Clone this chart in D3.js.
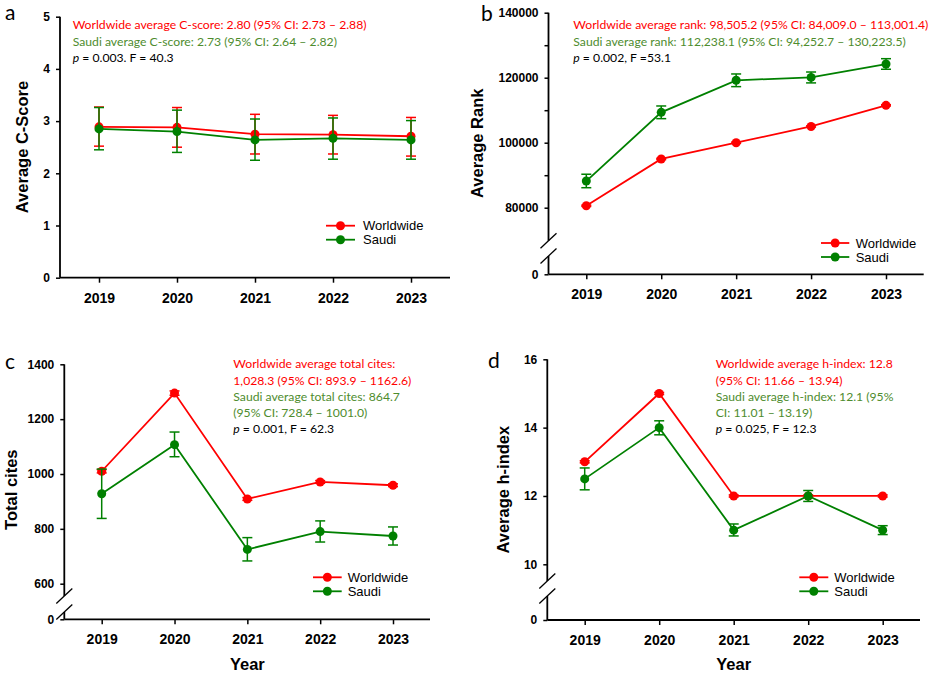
<!DOCTYPE html>
<html lang="en">
<head>
<meta charset="UTF-8">
<title>Average C-score, rank, total cites and h-index, 2019-2023</title>
<script src="https://d3js.org/d3.v7.min.js"></script>
<style>
  body { margin: 0; background: #fff; }
  svg { display: block; font-family: Arial, "Liberation Sans", sans-serif; }
  .tick line { stroke: #000; stroke-width: 1.5; }
  .tick text { font-weight: bold; fill: #000; }
  .yax .tick text { font-size: 12px; }
  .xax .tick text { font-size: 14px; }
  .axis-line { stroke: #000; stroke-width: 1.8; fill: none; }
  .axis-title { font-weight: bold; font-size: 16.5px; }
  .note { font-family: Lato, "Open Sans", sans-serif; font-size: 12.2px; }
  .legend text { font-size: 13px; }
  .letter { font-family: Lato, "Open Sans", sans-serif; font-size: 21px; }
</style>
</head>
<body>
<svg id="chart" width="935" height="676"></svg>
<script>
const years = ['2019', '2020', '2021', '2022', '2023'];
const seriesNames = ['Worldwide', 'Saudi'];

// a: average C-score
const cscoreWorld   = [2.89, 2.88, 2.75, 2.74, 2.71];
const cscoreWorldLo = [2.52, 2.50, 2.37, 2.37, 2.33];
const cscoreWorldHi = [3.27, 3.26, 3.13, 3.11, 3.07];
const cscoreSaudi   = [2.85, 2.80, 2.64, 2.67, 2.64];
const cscoreSaudiLo = [2.45, 2.40, 2.25, 2.27, 2.27];
const cscoreSaudiHi = [3.26, 3.21, 3.04, 3.06, 3.01];
const cscoreTicks = [0, 1, 2, 3, 4, 5];

// b: average rank
const rankWorld   = [80600, 95000, 100000, 105000, 111500];
const rankWorldLo = [80400, 94800, 99800, 104800, 111300];
const rankWorldHi = [80800, 95200, 100200, 105200, 111700];
const rankSaudi   = [88200, 109350, 119200, 120100, 124200];
const rankSaudiLo = [86150, 107400, 117250, 118400, 122600];
const rankSaudiHi = [90300, 111300, 121150, 121750, 125850];
const rankTicks = [80000, 100000, 120000, 140000];
const rankMinorTicks = [90000, 110000, 130000];

// c: total cites
const citesWorld   = [1010, 1295, 909, 971, 959];
const citesWorldLo = [1004, 1287, 904, 966, 954];
const citesWorldHi = [1016, 1303, 914, 976, 964];
const citesSaudi   = [928, 1107, 725, 790, 774];
const citesSaudiLo = [838, 1063, 683, 752, 741];
const citesSaudiHi = [1018, 1153, 768, 829, 807];
const citesTicks = [600, 800, 1000, 1200, 1400];

// d: average h-index
const hWorld   = [13, 15, 12, 12, 12];
const hWorldLo = [12.97, 14.97, 11.97, 11.97, 11.97];
const hWorldHi = [13.03, 15.03, 12.03, 12.03, 12.03];
const hSaudi   = [12.5, 14, 11, 12, 11];
const hSaudiLo = [12.18, 13.79, 10.83, 11.84, 10.87];
const hSaudiHi = [12.82, 14.2, 11.18, 12.16, 11.13];
const hTicks = [10, 12, 14, 16];

// annotation lines: [text, colour]; 'p' at start of the last line is italic
const notesA = [
  ['Worldwide average C-score: 2.80 (95% CI: 2.73 \u2013 2.88)', 'w'],
  ['Saudi average C-score: 2.73 (95% CI: 2.64 \u2013 2.82)', 's'],
  [' = 0.003. F = 40.3', 'p']
];
const notesB = [
  ['Worldwide average rank: 98,505.2 (95% CI: 84,009.0 \u2013 113,001.4)', 'w'],
  ['Saudi average rank: 112,238.1 (95% CI: 94,252.7 \u2013 130,223.5)', 's'],
  [' = 0.002, F =53.1', 'p']
];
const notesC = [
  ['Worldwide average total cites:', 'w'],
  ['1,028.3 (95% CI: 893.9 \u2013 1162.6)', 'w'],
  ['Saudi average total cites: 864.7', 's'],
  ['(95% CI: 728.4 \u2013 1001.0)', 's'],
  [' = 0.001, F = 62.3', 'p']
];
const notesD = [
  ['Worldwide average h-index: 12.8', 'w'],
  ['(95% CI: 11.66 \u2013 13.94)', 'w'],
  ['Saudi average h-index: 12.1 (95%', 's'],
  ['CI: 11.01 \u2013 13.19)', 's'],
  [' = 0.025, F = 12.3', 'p']
];

const lineColor = { Worldwide: '#ff0000', Saudi: '#008000' };
const noteColor = { w: '#ff0000', s: '#4e8c2e', p: '#000' };

const svg = d3.select('#chart');

const panels = [
  {
    letter: 'a', letterPos: [5, 20],
    left: 60, right: 450, x0: 99, x1: 411,
    domain: [0, 5], range: [277.7, 16.7], bottom: 277.7,
    ticks: cscoreTicks, minor: null, breakAt: null,
    series: [[cscoreWorld, cscoreWorldLo, cscoreWorldHi], [cscoreSaudi, cscoreSaudiLo, cscoreSaudiHi]],
    title: 'Average C-Score', titlePos: [27.5, 147], xTitle: false,
    notes: notesA, notePos: [72.7, 29.3],
    legend: { x1: 326, x2: 355, tx: 363, y: 225.7 }
  },
  {
    letter: 'b', letterPos: [481, 21],
    left: 548.5, right: 923.7, x0: 586.3, x1: 886,
    domain: [80000, 140000], range: [207.7, 12.7], bottom: 274.3,
    ticks: rankTicks, minor: rankMinorTicks, breakAt: [240.7, 256],
    series: [[rankWorld, rankWorldLo, rankWorldHi], [rankSaudi, rankSaudiLo, rankSaudiHi]],
    title: 'Average Rank', titlePos: [482.5, 143.3], xTitle: false,
    notes: notesB, notePos: [573.3, 29.3],
    legend: { x1: 821, x2: 849.3, tx: 855.7, y: 243 }
  },
  {
    letter: 'c', letterPos: [5, 369],
    left: 64.3, right: 430, x0: 101.7, x1: 393,
    domain: [600, 1400], range: [583.7, 364.3], bottom: 619.3,
    ticks: citesTicks, minor: null, breakAt: [596, 612],
    series: [[citesWorld, citesWorldLo, citesWorldHi], [citesSaudi, citesSaudiLo, citesSaudiHi]],
    title: 'Total cites', titlePos: [16.7, 489.7], xTitle: true,
    notes: notesC, notePos: [233.3, 368.3],
    legend: { x1: 313, x2: 341.7, tx: 347.7, y: 577.3 }
  },
  {
    letter: 'd', letterPos: [488, 368],
    left: 547.3, right: 920, x0: 584.7, x1: 882.7,
    domain: [10, 16], range: [564.3, 359.3], bottom: 620,
    ticks: hTicks, minor: null, breakAt: [581, 596],
    series: [[hWorld, hWorldLo, hWorldHi], [hSaudi, hSaudiLo, hSaudiHi]],
    title: 'Average h-index', titlePos: [509, 489.7], xTitle: true,
    notes: notesD, notePos: [715.7, 368.3],
    legend: { x1: 799.3, x2: 828.3, tx: 834.3, y: 577.3 }
  }
];

function drawPanel(p) {
  const g = svg.append('g');
  const x = d3.scalePoint().domain(years).range([p.x0, p.x1]);
  const y = d3.scaleLinear().domain(p.domain).range(p.range);

  // y axis ticks
  const ya = g.append('g').attr('class', 'yax')
    .attr('transform', `translate(${p.left},0)`)
    .call(d3.axisLeft(y).tickValues(p.ticks).tickSize(4).tickPadding(6).tickFormat(d3.format('d')));
  ya.select('.domain').remove();

  if (p.minor) {
    const ym = g.append('g').attr('class', 'yax')
      .attr('transform', `translate(${p.left},0)`)
      .call(d3.axisLeft(y).tickValues(p.minor).tickSize(4).tickFormat(''));
    ym.select('.domain').remove();
  }

  // zero tick below the break
  if (p.breakAt) {
    const y0 = d3.scaleLinear().domain([0, 1]).range([p.bottom, p.bottom - 10]);
    const yz = g.append('g').attr('class', 'yax')
      .attr('transform', `translate(${p.left},0)`)
      .call(d3.axisLeft(y0).tickValues([0]).tickSize(4).tickPadding(6).tickFormat(d3.format('d')));
    yz.select('.domain').remove();
  }

  // axis lines
  const yTop = p.range[1];
  if (p.breakAt) {
    g.append('line').attr('class', 'axis-line')
      .attr('x1', p.left).attr('x2', p.left).attr('y1', yTop).attr('y2', p.breakAt[0]);
    g.append('line').attr('class', 'axis-line')
      .attr('x1', p.left).attr('x2', p.left).attr('y1', p.breakAt[1]).attr('y2', p.bottom);
    p.breakAt.forEach(by => {
      g.append('line').attr('stroke', '#000').attr('stroke-width', 1.3)
        .attr('x1', p.left - 8).attr('y1', by + 7.5)
        .attr('x2', p.left + 8).attr('y2', by - 7.5);
    });
  } else {
    g.append('line').attr('class', 'axis-line')
      .attr('x1', p.left).attr('x2', p.left).attr('y1', yTop).attr('y2', p.bottom);
  }
  g.append('line').attr('class', 'axis-line')
    .attr('x1', p.left).attr('x2', p.right).attr('y1', p.bottom).attr('y2', p.bottom);

  // x axis ticks
  const xa = g.append('g').attr('class', 'xax')
    .attr('transform', `translate(0,${p.bottom})`)
    .call(d3.axisBottom(x).tickSize(5).tickPadding(10));
  xa.select('.domain').remove();

  // series
  p.series.forEach(([vals, lo, hi], si) => {
    const col = lineColor[seriesNames[si]];
    const pts = years.map((yr, i) => ({ yr, v: vals[i], lo: lo[i], hi: hi[i] }));
    const sg = g.append('g');
    sg.selectAll('.eb').data(pts).join('line')
      .attr('stroke', col).attr('stroke-width', 1.5)
      .attr('x1', d => x(d.yr)).attr('x2', d => x(d.yr))
      .attr('y1', d => y(d.lo)).attr('y2', d => y(d.hi));
    ['lo', 'hi'].forEach(k => {
      sg.selectAll('.cap-' + k).data(pts).join('line')
        .attr('stroke', col).attr('stroke-width', 1.5)
        .attr('x1', d => x(d.yr) - 5).attr('x2', d => x(d.yr) + 5)
        .attr('y1', d => y(d[k])).attr('y2', d => y(d[k]));
    });
    sg.append('path').datum(pts)
      .attr('fill', 'none').attr('stroke', col).attr('stroke-width', 1.8)
      .attr('d', d3.line().x(d => x(d.yr)).y(d => y(d.v)));
    sg.selectAll('circle').data(pts).join('circle')
      .attr('cx', d => x(d.yr)).attr('cy', d => y(d.v)).attr('r', 4.5)
      .attr('fill', col);
  });

  // y title
  g.append('text').attr('class', 'axis-title')
    .attr('text-anchor', 'middle')
    .attr('transform', `translate(${p.titlePos[0]},${p.titlePos[1]}) rotate(-90)`)
    .text(p.title);

  if (p.xTitle) {
    g.append('text').attr('class', 'axis-title')
      .attr('text-anchor', 'middle')
      .attr('x', x('2021')).attr('y', 670)
      .text('Year');
  }

  // panel letter
  g.append('text').attr('class', 'letter')
    .attr('x', p.letterPos[0]).attr('y', p.letterPos[1]).text(p.letter);

  // notes
  p.notes.forEach(([txt, kind], i) => {
    const t = g.append('text').attr('class', 'note')
      .attr('x', p.notePos[0]).attr('y', p.notePos[1] + i * 16.2)
      .attr('fill', noteColor[kind]);
    if (kind === 'p') {
      t.append('tspan').attr('font-style', 'italic').text('p');
      t.append('tspan').text(txt);
    } else {
      t.text(txt);
    }
    // keep long lines inside the picture
    const w = t.node().getComputedTextLength();
    const room = 932 - p.notePos[0];
    if (w > room) t.attr('textLength', room).attr('lengthAdjust', 'spacingAndGlyphs');
  });

  // legend
  const lg = g.append('g').attr('class', 'legend');
  seriesNames.forEach((name, i) => {
    const ly = p.legend.y + i * 14;
    lg.append('line').attr('stroke', lineColor[name]).attr('stroke-width', 1.8)
      .attr('x1', p.legend.x1).attr('x2', p.legend.x2).attr('y1', ly).attr('y2', ly);
    lg.append('circle').attr('cx', (p.legend.x1 + p.legend.x2) / 2).attr('cy', ly)
      .attr('r', 4.5).attr('fill', lineColor[name]);
    lg.append('text').attr('x', p.legend.tx).attr('y', ly + 4.7).text(name);
  });
}

panels.forEach(drawPanel);
</script>
</body>
</html>
